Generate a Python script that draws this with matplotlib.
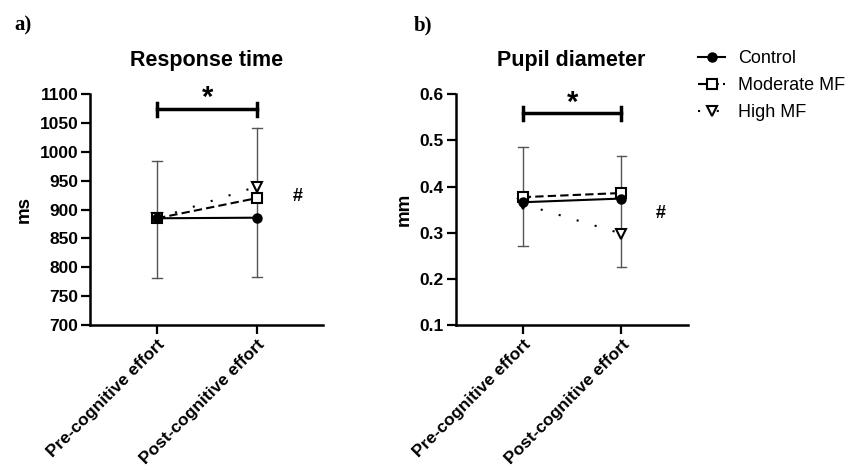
import matplotlib
matplotlib.use("Agg")
import matplotlib.pyplot as plt

# ---------------------------------------------------------------------------
# Data
# ---------------------------------------------------------------------------
conditions = ["Pre-cognitive effort", "Post-cognitive effort"]
groups = ["Control", "Moderate MF", "High MF"]

rt_control = [885, 886]
rt_moderate = [885, 920]
rt_high = [885, 940]
rt_err_lo = [782, 783]
rt_err_hi = [984, 1041]
rt_sig_y = 1074

pd_control = [0.366, 0.374]
pd_moderate = [0.377, 0.386]
pd_high = [0.362, 0.298]
pd_err_lo = [0.272, 0.225]
pd_err_hi = [0.486, 0.466]
pd_sig_y = 0.559

# ---------------------------------------------------------------------------
# Styles
# ---------------------------------------------------------------------------
_STYLE = {
    "Control":     {"ls": "-",         "marker": "o", "mfc": "black", "ms": 6.0, "z": 5},
    "Moderate MF": {"ls": (0, (4, 2)), "marker": "s", "mfc": "white", "ms": 6.5, "z": 4},
    "High MF":     {"ls": (0, (1, 8)), "marker": "v", "mfc": "white", "ms": 7.0, "z": 3},
}
ERR_COLOR = "#555555"

plt.rcParams["font.family"] = ["Liberation Sans", "DejaVu Sans"]

fig = plt.figure(figsize=(8.5, 4.7), dpi=100)
ax1 = fig.add_axes([0.106, 0.3085, 0.274, 0.491])
ax2 = fig.add_axes([0.536, 0.3085, 0.273, 0.491])


def draw_panel(ax, series, err_lo, err_hi, sig_y, cap_h, star_dy, ylim, yticks,
               ylabel, title, xlim, hash_pos, fmt):
    x = [0, 1]
    for i in range(2):
        ax.plot([x[i], x[i]], [err_lo[i], err_hi[i]], color=ERR_COLOR, lw=1.0, zorder=1)
        for v in (err_lo[i], err_hi[i]):
            ax.plot([x[i] - 0.05, x[i] + 0.05], [v, v], color=ERR_COLOR, lw=1.0, zorder=1)
    for name, vals in zip(groups, series):
        st = _STYLE[name]
        ax.plot(x, vals, color="black", linestyle=st["ls"], lw=1.5,
                marker=st["marker"], mfc=st["mfc"], mec="black", mew=1.5,
                ms=st["ms"], label=name, zorder=st["z"])

    # significance bracket
    ax.plot([0, 1], [sig_y, sig_y], color="black", lw=2.5, clip_on=False)
    for xe in (0, 1):
        ax.plot([xe, xe], [sig_y - cap_h, sig_y + cap_h], color="black", lw=2.5,
                clip_on=False)
    ax.text(0.5, sig_y + star_dy, "*", ha="center", va="baseline", fontsize=21,
            fontweight="bold", clip_on=False)
    ax.text(hash_pos[0], hash_pos[1], "#", ha="center", va="center", fontsize=13,
            fontweight="bold")

    ax.set_xlim(*xlim)
    ax.set_ylim(*ylim)
    ax.set_yticks(yticks)
    ax.set_yticklabels([format(t, fmt) for t in yticks], fontsize=12.5, fontweight="bold")
    ax.set_xticks(x)
    ax.set_xticklabels(conditions, rotation=45, ha="right", rotation_mode="anchor",
                       fontsize=12.5, fontweight="bold")
    ax.set_ylabel(ylabel, fontsize=13.5, fontweight="bold", labelpad=5)
    ax.set_title(title, fontsize=15.5, fontweight="bold", pad=20)
    for s in ("top", "right"):
        ax.spines[s].set_visible(False)
    for s in ("left", "bottom"):
        ax.spines[s].set_linewidth(1.8)
    ax.tick_params(width=1.6, length=6.5, pad=2)


draw_panel(ax1, [rt_control, rt_moderate, rt_high], rt_err_lo, rt_err_hi,
           rt_sig_y, 11, 5, (700, 1100), list(range(700, 1101, 50)), "ms",
           "Response time", (-0.67, 1.66), (1.41, 922), "d")
draw_panel(ax2, [pd_control, pd_moderate, pd_high], pd_err_lo, pd_err_hi,
           pd_sig_y, 0.014, 0.004, (0.1, 0.6), [0.1, 0.2, 0.3, 0.4, 0.5, 0.6], "mm",
           "Pupil diameter", (-0.68, 1.67), (1.40, 0.342), ".1f")

handles, labels = ax2.get_legend_handles_labels()
fig.legend(handles, labels, loc="upper left", bbox_to_anchor=(698 / 850, 1 - 50 / 470),
           frameon=False, borderpad=0, borderaxespad=0, handlelength=1.5,
           handletextpad=0.7, labelspacing=0.55, prop={"size": 13})

fig.text(14 / 850, 1 - 30 / 470, "a)", family="Liberation Serif", fontsize=15,
         fontweight="bold")
fig.text(414 / 850, 1 - 30 / 470, "b)", family="Liberation Serif", fontsize=15,
         fontweight="bold")

fig.savefig("out.png", dpi=100)
